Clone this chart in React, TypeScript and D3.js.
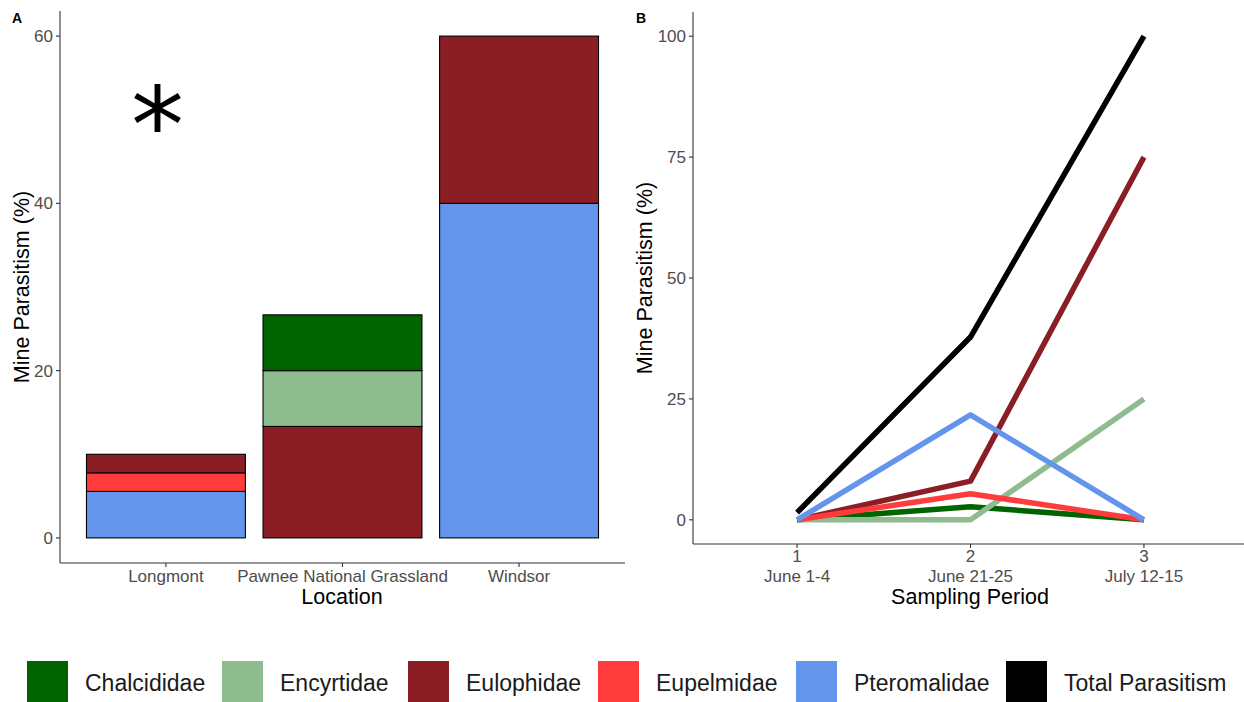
import React from "react";
import * as d3 from "d3";

// Families in stacking / legend order
const families = ["Chalcididae", "Encyrtidae", "Eulophidae", "Eupelmidae", "Pteromalidae"];
const familyColors = ["#006400", "#8FBC8F", "#8B1E24", "#FF3B3B", "#6495ED"];
const totalLabel = "Total Parasitism";
const totalColor = "#000000";

// Panel A: parasitism by location (%)
const locations = ["Longmont", "Pawnee National Grassland", "Windsor"];
const chalcididaeByLoc = [0, 6.67, 0];
const encyrtidaeByLoc = [0, 6.67, 0];
const eulophidaeByLoc = [2.22, 13.33, 20];
const eupelmidaeByLoc = [2.22, 0, 0];
const pteromalidaeByLoc = [5.56, 0, 40];
const yTicksA = [0, 20, 40, 60];

// Panel B: parasitism by sampling period (%)
const periods = [1, 2, 3];
const periodLabels = ["June 1-4", "June 21-25", "July 12-15"];
const chalcididaeByPeriod = [0, 2.7, 0];
const encyrtidaeByPeriod = [0, 0, 25];
const eulophidaeByPeriod = [0, 8, 75];
const eupelmidaeByPeriod = [0, 5.4, 0];
const pteromalidaeByPeriod = [0, 21.7, 0];
const totalByPeriod = [1.5, 37.8, 100];
const yTicksB = [0, 25, 50, 75, 100];

const FONT = "'Liberation Sans', Arial, Helvetica, sans-serif";
const TICK_COLOR = "#4D4D4D";
const AXIS_COLOR = "#333333";

export default function App() {
  const byLoc = [chalcididaeByLoc, encyrtidaeByLoc, eulophidaeByLoc, eupelmidaeByLoc, pteromalidaeByLoc];
  const byPeriod = [chalcididaeByPeriod, encyrtidaeByPeriod, eulophidaeByPeriod, eupelmidaeByPeriod, pteromalidaeByPeriod];

  // ---- Panel A scales
  const xA = d3.scaleBand<string>().domain(locations).range([60, 625]).paddingInner(0.1).paddingOuter(0.15);
  const yA = d3.scaleLinear().domain([-3, 63]).range([563, 11]);

  // stack bottom-up: Pteromalidae first, Chalcididae last
  const rows = locations.map((loc, i) => {
    const r: Record<string, number | string> = { loc };
    families.forEach((f, k) => (r[f] = byLoc[k][i]));
    return r;
  });
  const stack = d3.stack<any>().keys([...families].reverse());
  const series = stack(rows as any);

  // ---- Panel B scales
  const xB = d3.scaleLinear().domain([0.4, 3.6]).range([693, 1248]);
  const yB = d3.scaleLinear().domain([-5, 105]).range([544, 12]);
  const line = d3
    .line<number>()
    .x((_, i) => xB(periods[i]))
    .y((v) => yB(v));

  const lineSeries = [
    ...families.map((f, k) => ({ name: f, color: familyColors[k], values: byPeriod[k] })),
    { name: totalLabel, color: totalColor, values: totalByPeriod },
  ];

  const legendItems = [
    ...families.map((f, k) => ({ name: f, color: familyColors[k] })),
    { name: totalLabel, color: totalColor },
  ];
  const legendX = [27, 222, 408, 598, 796, 1006];

  return (
    <svg width={1244} height={702} style={{ display: "block", position: "absolute", left: 0, top: 0 }} fontFamily={FONT}>
      <rect width={1244} height={702} fill="#fff" />

      {/* ---------- Panel A ---------- */}
      <text x={12} y={22.7} fontSize={14} fontWeight="bold">A</text>
      {series.map((s) => {
        const k = families.indexOf(s.key);
        return (
          <g key={s.key}>
            {s.map((d, i) =>
              d[1] - d[0] > 0 ? (
                <rect
                  key={i}
                  x={xA(locations[i])}
                  width={xA.bandwidth()}
                  y={yA(d[1])}
                  height={yA(d[0]) - yA(d[1])}
                  fill={familyColors[k]}
                  stroke="#000"
                  strokeWidth={1.1}
                />
              ) : null
            )}
          </g>
        );
      })}
      <line x1={60} x2={60} y1={11} y2={563} stroke={AXIS_COLOR} strokeWidth={1.1} />
      <line x1={60} x2={625} y1={563} y2={563} stroke={AXIS_COLOR} strokeWidth={1.1} />
      {yTicksA.map((t) => (
        <g key={t}>
          <line x1={56} x2={60} y1={yA(t)} y2={yA(t)} stroke={AXIS_COLOR} strokeWidth={1.1} />
          <text x={53} y={yA(t)} dy="0.35em" textAnchor="end" fontSize={17} fill={TICK_COLOR}>{t}</text>
        </g>
      ))}
      {locations.map((l) => {
        const cx = (xA(l) as number) + xA.bandwidth() / 2;
        return (
          <g key={l}>
            <line x1={cx} x2={cx} y1={563} y2={567} stroke={AXIS_COLOR} strokeWidth={1.1} />
            <text x={cx} y={582} textAnchor="middle" fontSize={17} fill={TICK_COLOR}>{l}</text>
          </g>
        );
      })}
      <text x={342} y={604} textAnchor="middle" fontSize={21.5}>Location</text>
      <text transform="translate(29,287) rotate(-90)" textAnchor="middle" fontSize={21.5}>Mine Parasitism (%)</text>
      <text x={157.5} y={162} textAnchor="middle" fontSize={106} fontFamily="'DejaVu Sans', sans-serif">*</text>

      {/* ---------- Panel B ---------- */}
      <text x={636} y={22.7} fontSize={14} fontWeight="bold">B</text>
      {lineSeries.map((s) => (
        <path
          key={s.name}
          d={line(s.values) as string}
          fill="none"
          stroke={s.color}
          strokeWidth={5.5}
          strokeLinejoin="round"
          strokeLinecap="butt"
        />
      ))}
      <line x1={693} x2={693} y1={12} y2={544} stroke={AXIS_COLOR} strokeWidth={1.1} />
      <line x1={693} x2={1244} y1={544} y2={544} stroke={AXIS_COLOR} strokeWidth={1.1} />
      {yTicksB.map((t) => (
        <g key={t}>
          <line x1={689} x2={693} y1={yB(t)} y2={yB(t)} stroke={AXIS_COLOR} strokeWidth={1.1} />
          <text x={686} y={yB(t)} dy="0.35em" textAnchor="end" fontSize={17} fill={TICK_COLOR}>{t}</text>
        </g>
      ))}
      {periods.map((p, i) => (
        <g key={p}>
          <line x1={xB(p)} x2={xB(p)} y1={544} y2={548} stroke={AXIS_COLOR} strokeWidth={1.1} />
          <text x={xB(p)} y={562} textAnchor="middle" fontSize={17} fill={TICK_COLOR}>{p}</text>
          <text x={xB(p)} y={582} textAnchor="middle" fontSize={17} fill={TICK_COLOR}>{periodLabels[i]}</text>
        </g>
      ))}
      <text x={970} y={604} textAnchor="middle" fontSize={21.5}>Sampling Period</text>
      <text transform="translate(652,278) rotate(-90)" textAnchor="middle" fontSize={21.5}>Mine Parasitism (%)</text>

      {/* ---------- Legend ---------- */}
      {legendItems.map((it, i) => (
        <g key={it.name}>
          <rect x={legendX[i]} y={661} width={41} height={41} fill={it.color} />
          <text x={legendX[i] + 58} y={683} dy="0.35em" fontSize={23} fill="#1a1a1a">{it.name}</text>
        </g>
      ))}
    </svg>
  );
}
